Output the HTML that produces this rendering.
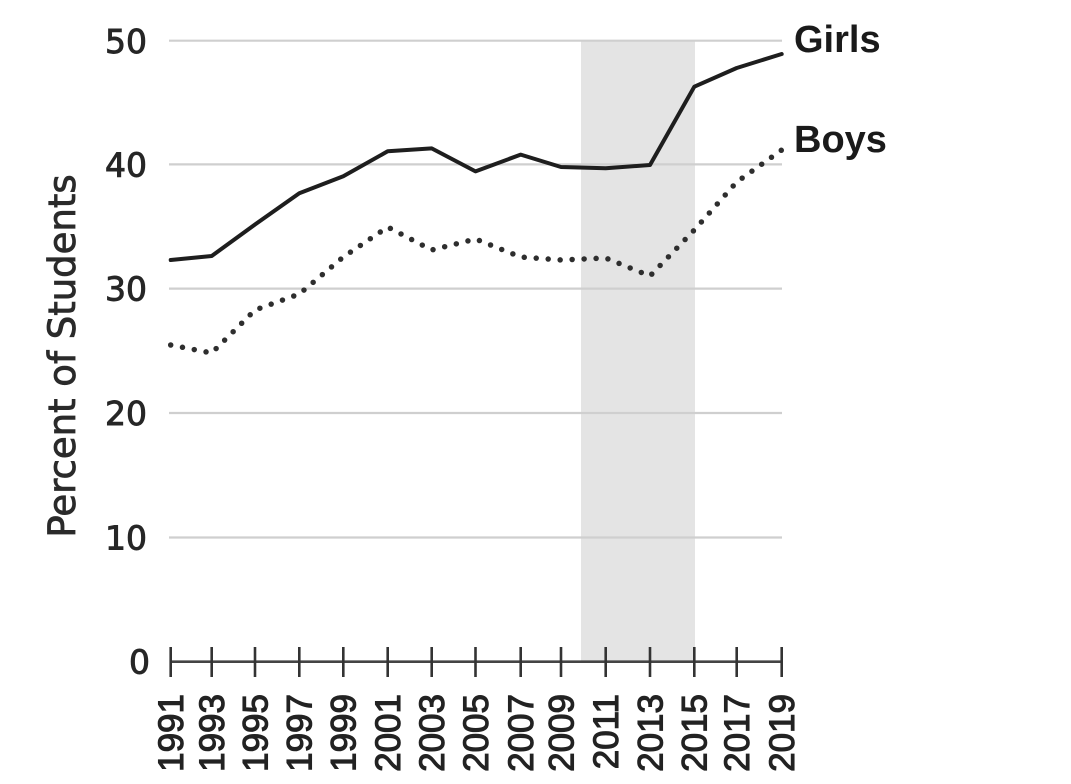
<!DOCTYPE html>
<html>
<head>
<meta charset="utf-8">
<style>
html,body{margin:0;padding:0;background:#fff;}
svg{display:block;}
</style>
</head>
<body>
<svg width="1071" height="784" viewBox="0 0 1071 784" xmlns="http://www.w3.org/2000/svg">
  <rect x="0" y="0" width="1071" height="784" fill="#fff"/>
  <!-- shaded period -->
  <rect x="581" y="40.7" width="114" height="621" fill="#e4e4e4"/>
  <!-- gridlines -->
  <g stroke="#cfcfcf" stroke-width="2.2">
    <line x1="169" y1="40.7" x2="782" y2="40.7"/>
    <line x1="169" y1="164.4" x2="782" y2="164.4"/>
    <line x1="169" y1="288.6" x2="782" y2="288.6"/>
    <line x1="169" y1="413" x2="782" y2="413"/>
    <line x1="169" y1="537.5" x2="782" y2="537.5"/>
  </g>
  <!-- y tick labels -->
  <g font-family="'DejaVu Sans', 'Liberation Sans', sans-serif" font-size="33" fill="#262626" stroke="#262626" stroke-width="0.9" text-anchor="end">
    <text x="147" y="53">50</text>
    <text x="147" y="176.5">40</text>
    <text x="147" y="300.5">30</text>
    <text x="147" y="425">20</text>
    <text x="147" y="549.5">10</text>
    <text x="150" y="673.5">0</text>
  </g>
  <!-- y axis title -->
  <text transform="translate(75,356) rotate(-90)" text-anchor="middle" font-family="'DejaVu Sans', 'Liberation Sans', sans-serif" font-size="37" fill="#2a2a2a" stroke="#2a2a2a" stroke-width="0.8">Percent of Students</text>
  <!-- x axis -->
  <line x1="170" y1="661.7" x2="782" y2="661.7" stroke="#444" stroke-width="2.6"/>
  <g stroke="#333" stroke-width="2.6">
    <line x1="170.7" y1="647" x2="170.7" y2="677"/>
    <line x1="211.7" y1="647" x2="211.7" y2="677"/>
    <line x1="255" y1="647" x2="255" y2="677"/>
    <line x1="299.3" y1="647" x2="299.3" y2="677"/>
    <line x1="343.3" y1="647" x2="343.3" y2="677"/>
    <line x1="387.7" y1="647" x2="387.7" y2="677"/>
    <line x1="431.7" y1="647" x2="431.7" y2="677"/>
    <line x1="475.5" y1="647" x2="475.5" y2="677"/>
    <line x1="520.7" y1="647" x2="520.7" y2="677"/>
    <line x1="561" y1="647" x2="561" y2="677"/>
    <line x1="605.7" y1="647" x2="605.7" y2="677"/>
    <line x1="650" y1="647" x2="650" y2="677"/>
    <line x1="694.3" y1="647" x2="694.3" y2="677"/>
    <line x1="736.7" y1="647" x2="736.7" y2="677"/>
    <line x1="781.7" y1="647" x2="781.7" y2="677"/>
  </g>
  <!-- x tick labels -->
  <g font-family="'Liberation Sans', sans-serif" font-size="35" fill="#222" stroke="#222" stroke-width="1.1" text-anchor="end">
    <text transform="translate(183,694) rotate(-90)">1991</text>
    <text transform="translate(224,694) rotate(-90)">1993</text>
    <text transform="translate(267.3,694) rotate(-90)">1995</text>
    <text transform="translate(311.6,694) rotate(-90)">1997</text>
    <text transform="translate(355.6,694) rotate(-90)">1999</text>
    <text transform="translate(400,694) rotate(-90)">2001</text>
    <text transform="translate(444,694) rotate(-90)">2003</text>
    <text transform="translate(487.8,694) rotate(-90)">2005</text>
    <text transform="translate(533,694) rotate(-90)">2007</text>
    <text transform="translate(573.3,694) rotate(-90)">2009</text>
    <text transform="translate(618,694) rotate(-90)">2011</text>
    <text transform="translate(662.3,694) rotate(-90)">2013</text>
    <text transform="translate(706.6,694) rotate(-90)">2015</text>
    <text transform="translate(749,694) rotate(-90)">2017</text>
    <text transform="translate(794,694) rotate(-90)">2019</text>
  </g>
  <!-- Girls line -->
  <polyline fill="none" stroke="#1e1e1e" stroke-width="4" stroke-linejoin="round" stroke-linecap="round"
    points="170.7,260 211.7,256 255,224.5 299.3,193.2 343.3,176.3 387.7,151.3 431.7,148.4 475.5,171.4 520.7,154.6 561,167 605.7,168.3 650,165 694.3,86.7 736.7,68 781.7,54"/>
  <!-- Boys line (dotted) -->
  <polyline fill="none" stroke="#2e2e2e" stroke-width="5.5" stroke-linecap="round" stroke-dasharray="0 12"
    points="170.7,345 211.7,353 255,310 299.3,294 343.3,257 387.7,227 431.7,250 475.5,239 520.7,257 561,260 605.7,258 650,276 694.3,230 736.7,182 781.7,150"/>
  <!-- series labels -->
  <g font-family="'Liberation Sans', sans-serif" font-weight="bold" font-size="38" fill="#1a1a1a">
    <text x="794" y="52">Girls</text>
    <text x="794" y="152">Boys</text>
  </g>
</svg>
</body>
</html>
